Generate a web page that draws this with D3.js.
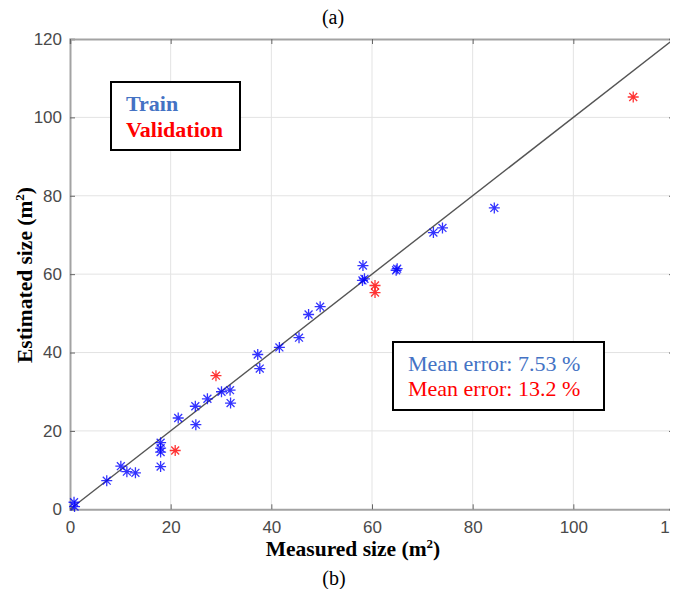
<!DOCTYPE html>
<html>
<head>
<meta charset="utf-8">
<script src="https://cdn.jsdelivr.net/npm/d3@7"></script>
<style>
  html, body { margin: 0; padding: 0; background: #fff; }
  svg { display: block; }
</style>
</head>
<body>
<svg id="chart" width="683" height="589"></svg>
<script>
// Measured vs. estimated size (m²)
const trainMeasured = [0.9, 0.8, 7.3, 10.1, 11.3, 13.0, 18.0, 18.0, 18.0, 18.0, 21.5, 24.9, 25.0, 27.3, 30.1, 31.8, 31.9, 37.3, 37.7, 41.6, 45.5, 47.4, 49.7, 58.2, 58.1, 58.5, 64.8, 65.0, 72.2, 74.0, 84.3];
const trainEstimated = [0.7, 1.8, 7.3, 11.0, 9.6, 9.3, 17.0, 15.6, 14.6, 10.9, 23.3, 26.3, 21.6, 28.2, 30.0, 30.4, 27.1, 39.5, 35.9, 41.3, 43.8, 49.7, 51.7, 62.2, 58.4, 58.8, 61.0, 61.4, 70.6, 71.8, 76.9];
const validMeasured = [20.9, 29.0, 60.6, 60.6, 111.9];
const validEstimated = [15.0, 34.1, 57.1, 55.3, 105.2];
const tickValues = [0, 20, 40, 60, 80, 100, 120];
const legendLabels = ["Train", "Validation"];
const errorLabels = ["Mean error: 7.53 %", "Mean error: 13.2 %"];

const svg = d3.select("#chart");
const W = 683, H = 589;
const x = d3.scaleLinear().domain([0, 120]).range([70, 674]);
const y = d3.scaleLinear().domain([0, 120]).range([509.3, 39]);

// the figure is trimmed just past the right end of the axes
svg.append("defs").append("clipPath").attr("id", "pageclip")
  .append("rect").attr("x", 0).attr("y", 0).attr("width", 670).attr("height", H);

const g = svg.append("g").attr("clip-path", "url(#pageclip)");
g.append("rect").attr("width", W).attr("height", H).attr("fill", "#fff");

// grid
const inner = tickValues.slice(1, -1);
g.append("g").selectAll("line").data(inner).join("line")
  .attr("x1", d => x(d)).attr("x2", d => x(d))
  .attr("y1", y(0)).attr("y2", y(120))
  .attr("stroke", "#e3e3e3").attr("stroke-width", 1);
g.append("g").selectAll("line").data(inner).join("line")
  .attr("y1", d => y(d)).attr("y2", d => y(d))
  .attr("x1", x(0)).attr("x2", x(120))
  .attr("stroke", "#e3e3e3").attr("stroke-width", 1);

// axes (ticks inside, box on all sides)
const axisColor = "#a3a3a3";
const fmt = d3.format("d");
const axBottom = g.append("g").attr("transform", `translate(0,${y(0)})`)
  .call(d3.axisBottom(x).tickValues(tickValues).tickSize(-5).tickPadding(12).tickFormat(fmt));
const axLeft = g.append("g").attr("transform", `translate(${x(0)},0)`)
  .call(d3.axisLeft(y).tickValues(tickValues).tickSize(-5).tickPadding(8).tickFormat(fmt));
const axTop = g.append("g").attr("transform", `translate(0,${y(120)})`)
  .call(d3.axisTop(x).tickValues(tickValues).tickSize(-5).tickFormat(""));
const axRight = g.append("g").attr("transform", `translate(${x(120)},0)`)
  .call(d3.axisRight(y).tickValues(tickValues).tickSize(-5).tickFormat(""));
[axBottom, axLeft, axTop, axRight].forEach(a => {
  a.select(".domain").attr("stroke", axisColor).attr("stroke-width", 2);
  a.selectAll(".tick line").attr("stroke", "#666").attr("stroke-width", 1);
  a.selectAll(".tick text").attr("fill", "#4a4a4a")
    .style("font-family", "'Liberation Sans', Arial, sans-serif").style("font-size", "17px");
});

// identity line
g.append("line")
  .attr("x1", x(0)).attr("y1", y(0)).attr("x2", x(120)).attr("y2", y(120))
  .attr("stroke", "#555").attr("stroke-width", 1.4);

// asterisk markers
function asterisk(r) {
  const a = r * 0.72;
  return `M${-r},0L${r},0M0,${-r}L0,${r}M${-a},${-a}L${a},${a}M${-a},${a}L${a},${-a}`;
}
function plotSeries(xs, ys, color) {
  const pts = xs.map((v, i) => [v, ys[i]]);
  g.append("g").selectAll("path").data(pts).join("path")
    .attr("transform", d => `translate(${x(d[0])},${y(d[1])})`)
    .attr("d", asterisk(5.5))
    .attr("fill", "none").attr("stroke", color).attr("stroke-width", 1.3)
    .attr("stroke-opacity", 0.8);
}
plotSeries(trainMeasured, trainEstimated, "#0000ff");
plotSeries(validMeasured, validEstimated, "#ff0000");

// legend box
const serif = "'Liberation Serif', 'Times New Roman', serif";
g.append("rect").attr("x", 111).attr("y", 82).attr("width", 129).attr("height", 68)
  .attr("fill", "#fff").attr("stroke", "#000").attr("stroke-width", 2);
g.append("g").selectAll("text").data(legendLabels).join("text")
  .attr("x", 126).attr("y", (d, i) => 110.5 + i * 26.5)
  .attr("fill", (d, i) => i === 0 ? "#4472c4" : "#ff0000")
  .style("font-family", serif).style("font-weight", "bold").style("font-size", "22px")
  .text(d => d);

// error box
g.append("rect").attr("x", 393).attr("y", 342).attr("width", 211).attr("height", 68)
  .attr("fill", "#fff").attr("stroke", "#000").attr("stroke-width", 2);
g.append("g").selectAll("text").data(errorLabels).join("text")
  .attr("x", 408).attr("y", (d, i) => 370.5 + i * 25.5)
  .attr("fill", (d, i) => i === 0 ? "#4472c4" : "#ff0000")
  .style("font-family", serif).style("font-size", "22px")
  .text(d => d);

// axis titles
function titleWithSup(sel, base) {
  sel.append("tspan").text(base);
  sel.append("tspan").attr("dy", -8).style("font-size", "13px").text("2");
  sel.append("tspan").attr("dy", 8).text(")");
}
const xt = g.append("text").attr("x", 353).attr("y", 556).attr("text-anchor", "middle")
  .style("font-family", serif).style("font-weight", "bold").style("font-size", "21.5px");
titleWithSup(xt, "Measured size (m");
const yt = g.append("text").attr("transform", "translate(32,275) rotate(-90)").attr("text-anchor", "middle")
  .style("font-family", serif).style("font-weight", "bold").style("font-size", "21.5px");
titleWithSup(yt, "Estimated size (m");

// panel captions
g.append("text").attr("x", 333).attr("y", 24).attr("text-anchor", "middle")
  .style("font-family", serif).style("font-size", "20px").text("(a)");
g.append("text").attr("x", 334).attr("y", 585).attr("text-anchor", "middle")
  .style("font-family", serif).style("font-size", "20px").text("(b)");
</script>
</body>
</html>
